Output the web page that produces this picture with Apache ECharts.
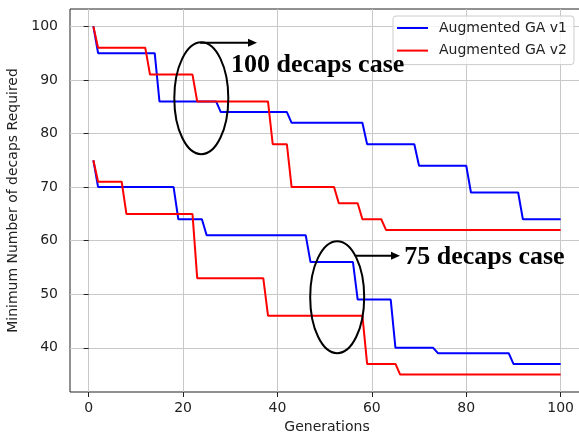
<!DOCTYPE html>
<html>
<head>
<meta charset="utf-8">
<title>Augmented GA decaps</title>
<script src="https://cdn.jsdelivr.net/npm/echarts@6/dist/echarts.min.js"></script>
<style>
	html, body { margin: 0; padding: 0; background: #fff; }
	#main { width: 579px; height: 435px; }
</style>
</head>
<body>
<div id="main"></div>
<script>
// 数据：每条线的拐点 [代数, 电容数]
var v1Case100 = [[1, 100], [2, 95], [14, 95], [15, 86], [27, 86], [28, 84], [42, 84], [43, 82], [58, 82], [59, 78], [69, 78], [70, 74], [80, 74], [81, 69], [91, 69], [92, 64], [100, 64]];
var v2Case100 = [[1, 100], [2, 96], [12, 96], [13, 91], [22, 91], [23, 86], [38, 86], [39, 78], [42, 78], [43, 70], [52, 70], [53, 67], [57, 67], [58, 64], [62, 64], [63, 62], [100, 62]];
var v1Case75 = [[1, 75], [2, 70], [18, 70], [19, 64], [24, 64], [25, 61], [46, 61], [47, 56], [56, 56], [57, 49], [64, 49], [65, 40], [73, 40], [74, 39], [89, 39], [90, 37], [100, 37]];
var v2Case75 = [[1, 75], [2, 71], [7, 71], [8, 65], [22, 65], [23, 53], [37, 53], [38, 46], [58, 46], [59, 37], [65, 37], [66, 35], [100, 35]];

var seriesNames = ['Augmented GA v1', 'Augmented GA v2'];
var xTicks = [0, 20, 40, 60, 80, 100];
var yTicks = [40, 50, 60, 70, 80, 90, 100];

var myChart = echarts.init(document.getElementById('main'));

function line(name, data, color) {
	return {
		name: name,
		type: 'line',
		data: data,
		symbol: 'none',
		color: color,
		lineStyle: { width: 2, color: color },
		z: 3
	};
}

var option = {
	animation: false,
	backgroundColor: '#fff',
	textStyle: { fontFamily: 'DejaVu Sans' },
	grid: {
		left: 70,
		top: 9,
		right: -5,
		bottom: 43,
		outerBoundsMode: 'none',
		containLabel: false,
		show: true,
		borderColor: '#222',
		borderWidth: 1,
		backgroundColor: 'transparent'
	},
	legend: {
		data: seriesNames,
		orient: 'vertical',
		left: 393,
		top: 16,
		padding: [5, 7, 7, 4],
		itemGap: 8.6,
		icon: 'rect',
		itemWidth: 31,
		itemHeight: 2,
		backgroundColor: 'rgba(255,255,255,0.8)',
		borderColor: '#ccc',
		borderWidth: 1,
		borderRadius: 3,
		textStyle: { fontSize: 14, color: '#222', fontFamily: 'DejaVu Sans', padding: [0, 0, 0, 6], lineHeight: 14 }
	},
	xAxis: {
		type: 'value',
		min: -3.95,
		max: 104.95,
		name: 'Generations',
		nameLocation: 'middle',
		nameGap: 26,
		nameTextStyle: { fontSize: 14, color: '#222' },
		axisLine: { show: false },
		axisTick: { show: true, length: 5, customValues: xTicks, lineStyle: { color: '#222' } },
		axisLabel: { fontSize: 14, color: '#222', margin: 9, customValues: xTicks },
		splitLine: { show: true, lineStyle: { color: '#c8c8c8', width: 1 } }
	},
	yAxis: {
		type: 'value',
		min: 31.75,
		max: 103.25,
		name: 'Minimum Number of decaps Required',
		nameLocation: 'middle',
		nameGap: 47,
		nameRotate: 90,
		nameTextStyle: { fontSize: 14, color: '#222' },
		axisLine: { show: false },
		axisTick: { show: true, length: 5, customValues: yTicks, lineStyle: { color: '#222' } },
		axisLabel: { fontSize: 14, color: '#222', margin: 12, customValues: yTicks },
		splitLine: { show: true, lineStyle: { color: '#c8c8c8', width: 1 } }
	},
	series: [
		line(seriesNames[0], v1Case100, '#0000ff'),
		line(seriesNames[1], v2Case100, '#ff0000'),
		line(seriesNames[0], v1Case75, '#0000ff'),
		line(seriesNames[1], v2Case75, '#ff0000')
	]
};

myChart.setOption(option);

// 标注：椭圆 + 箭头 + 文字，位置用数据坐标换算
function px(g, v) {
	return myChart.convertToPixel({ gridIndex: 0 }, [g, v]);
}

function note(center, from, toG, textAt, label) {
	var c = px(center[0], center[1]);
	var a = px(from[0], from[1]);
	var b = px(toG, from[1]);
	var t = px(textAt[0], textAt[1]);
	return [{
		type: 'ellipse',
		shape: { cx: c[0], cy: c[1], rx: 27, ry: 56 },
		style: { fill: 'none', stroke: '#000', lineWidth: 2 },
		z: 10
	}, {
		type: 'line',
		shape: { x1: a[0], y1: a[1], x2: b[0] - 7, y2: b[1] },
		style: { stroke: '#000', lineWidth: 2 },
		z: 10
	}, {
		type: 'polygon',
		shape: { points: [[b[0], b[1]], [b[0] - 9, b[1] - 4], [b[0] - 9, b[1] + 4]] },
		style: { fill: '#000' },
		z: 10
	}, {
		type: 'text',
		x: t[0],
		y: t[1],
		style: {
			text: label,
			font: 'bold 26px "Liberation Serif"',
			fill: '#000',
			align: 'left',
			verticalAlign: 'middle'
		},
		z: 10
	}];
}

var g1 = note([23.87, 86.6], [23.6, 96.96], 35.67, [30.16, 92.7], '100 decaps case');
var g2 = note([52.66, 49.45], [56.43, 57.19], 65.97, [66.88, 56.91], '75 decaps case');

myChart.setOption({ graphic: g1.concat(g2) });
</script>
</body>
</html>
